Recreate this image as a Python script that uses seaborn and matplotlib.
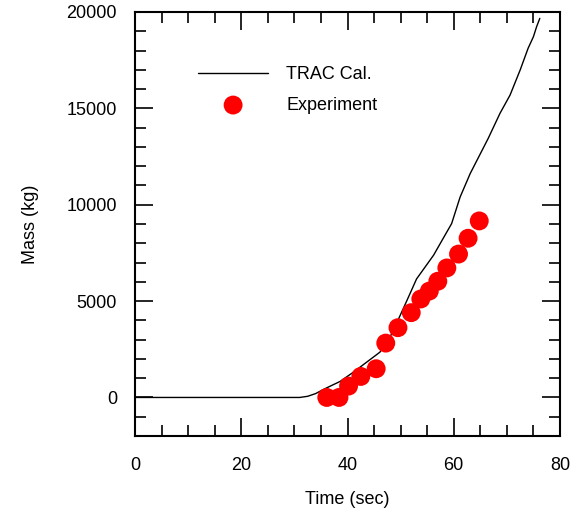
import matplotlib
matplotlib.use("Agg")
import matplotlib.pyplot as plt
from matplotlib.ticker import MultipleLocator
import seaborn as sns
import pandas as pd

# TRAC calculation
t_calc = [0, 27, 31, 32.5, 34, 35.5, 37, 38.6, 41.1, 43.6, 46.1, 48.0, 49.9,
          51.2, 53.0, 56.2, 58.0, 59.6, 61.2, 63.1, 66.5, 68.7, 70.6, 72.5,
          74.0, 75.0, 75.6, 76.2]
m_calc = [0, 0, 0, 60, 200, 420, 620, 830, 1310, 1830, 2350, 3130, 4250,
          5040, 6150, 7380, 8250, 9020, 10400, 11620, 13450, 14740, 15690,
          16990, 18120, 18720, 19240, 19670]

# Measured data
t_exp = [36.1, 38.4, 40.2, 42.5, 45.4, 47.2, 49.5, 52.0, 53.8, 55.4, 57.0,
         58.7, 60.9, 62.7, 64.8]
m_exp = [0, 0, 590, 1090, 1490, 2820, 3620, 4400, 5110, 5520, 6030, 6720,
         7440, 8260, 9160]

calc = pd.DataFrame({"t": t_calc, "m": m_calc})
exp = pd.DataFrame({"t": t_exp, "m": m_exp})

sns.set_theme(style="white")
plt.rcParams["font.family"] = ["Liberation Sans", "DejaVu Sans"]
plt.rcParams.update({"text.color": "black", "axes.labelcolor": "black",
                     "xtick.color": "black", "ytick.color": "black"})

fig = plt.figure(figsize=(5.82, 5.17), dpi=100)
ax = fig.add_axes([135 / 582, 1 - 436 / 517, 425 / 582, 424 / 517])

sns.lineplot(data=calc, x="t", y="m", ax=ax, color="black", lw=1.0,
             sort=False, estimator=None, label="TRAC Cal.")
sns.scatterplot(data=exp, x="t", y="m", ax=ax, color="#ff0000", s=185,
                edgecolor="none", linewidth=0, label="Experiment", zorder=3)

ax.set_xlim(0, 80)
ax.set_ylim(-2000, 20000)
ax.xaxis.set_major_locator(MultipleLocator(20))
ax.xaxis.set_minor_locator(MultipleLocator(5))
ax.yaxis.set_major_locator(MultipleLocator(5000))
ax.yaxis.set_minor_locator(MultipleLocator(1000))

ax.tick_params(which="both", direction="in", top=True, right=True,
               bottom=True, left=True, colors="black", width=1.2)
ax.tick_params(which="major", length=13, labelsize=13, pad=15)
ax.tick_params(which="minor", length=8)
ax.tick_params(axis="y", which="major", pad=13)
for sp in ax.spines.values():
    sp.set_visible(True)
    sp.set_color("black")
    sp.set_linewidth(1.5)

ax.set_xlabel("Time (sec)", fontsize=13, labelpad=12)
ax.set_ylabel("Mass (kg)", fontsize=13, labelpad=20)

leg = ax.legend(loc="center left", bbox_to_anchor=(0.148, 0.816),
                frameon=False, fontsize=13, handlelength=3.9,
                handletextpad=1.0, labelspacing=0.75, borderpad=0,
                borderaxespad=0)

fig.savefig("out.png", dpi=100)
